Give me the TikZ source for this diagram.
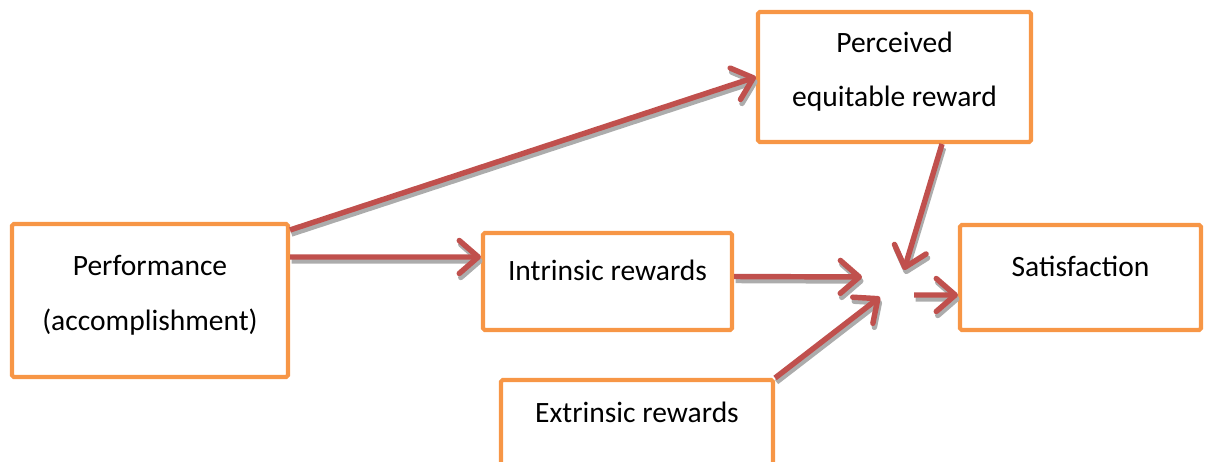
\documentclass[tikz,border=0pt]{standalone}
\usepackage{fontspec}
\setmainfont{Carlito}
\usetikzlibrary{arrows.meta}
\definecolor{boxorange}{HTML}{F79646}
\definecolor{arrowred}{HTML}{C0504D}

\begin{document}
\begin{tikzpicture}[
    box/.style={draw=boxorange, line width=2.3pt, rounded corners=1pt, align=center, font=\fontsize{16.8}{31}\selectfont},
    arr/.style={draw=arrowred, line width=3.1pt, -{Straight Barb[length=3.8mm, width=6.6mm, round]}},
    arrshadow/.style={arr, draw=gray!65}
  ]
    \useasboundingbox (0,0) rectangle (24.16,-9.24);
    \clip (0,0) rectangle (24.16,-9.24);

    \node[box, minimum width=5.52cm, minimum height=3.06cm, text depth=0.3cm] (perf) at (3.0,-6.01) {Performance\\(accomplishment)};
    \node[box, minimum width=5.46cm, minimum height=2.6cm, text depth=0.3cm] (perc) at (17.89,-1.54) {Perceived\\equitable reward};
    \node[box, minimum width=4.98cm, minimum height=1.94cm, text height=0.44cm, text depth=0.47cm] (intr) at (12.15,-5.63) {Intrinsic rewards};
    \node[box, minimum width=4.82cm, minimum height=2.1cm, text height=0.44cm, text depth=0.47cm] (sat) at (21.61,-5.55) {Satisfaction};
    \node[box, minimum width=5.44cm, minimum height=2.6cm, inner ysep=0.3cm, text height=0.54cm, text depth=1.46cm] (extr) at (12.74,-8.9) {Extrinsic rewards};

    % free ends of the arrows meeting before Satisfaction
    \coordinate (m1) at (17.24,-5.54);
    \coordinate (m2) at (18.08,-5.40);
    \coordinate (m3) at (17.60,-5.94);
    \coordinate (m4) at (18.28,-5.90);

    \coordinate (p1) at ([yshift=-0.16cm]perf.north east);
    \coordinate (p2) at ([yshift=-0.7cm]perf.north east);
    \coordinate (i1) at ([yshift=-0.52cm]intr.north west);
    \coordinate (i2) at ([yshift=0.1cm]intr.east);
    \coordinate (e1) at ([xshift=0.95cm]perc.south);
    \coordinate (s1) at ([yshift=-0.35cm]sat.west);

    \foreach \from/\to in {p1/perc.west, p2/i1, i2/m1, e1/m2, extr.north east/m3, m4/s1} {
      \draw[arrshadow] ([shift={(0.03,-0.08)}]\from) -- ([shift={(0.03,-0.08)}]\to);
      \draw[arr] (\from) -- (\to);
    }
\end{tikzpicture}
\end{document}
